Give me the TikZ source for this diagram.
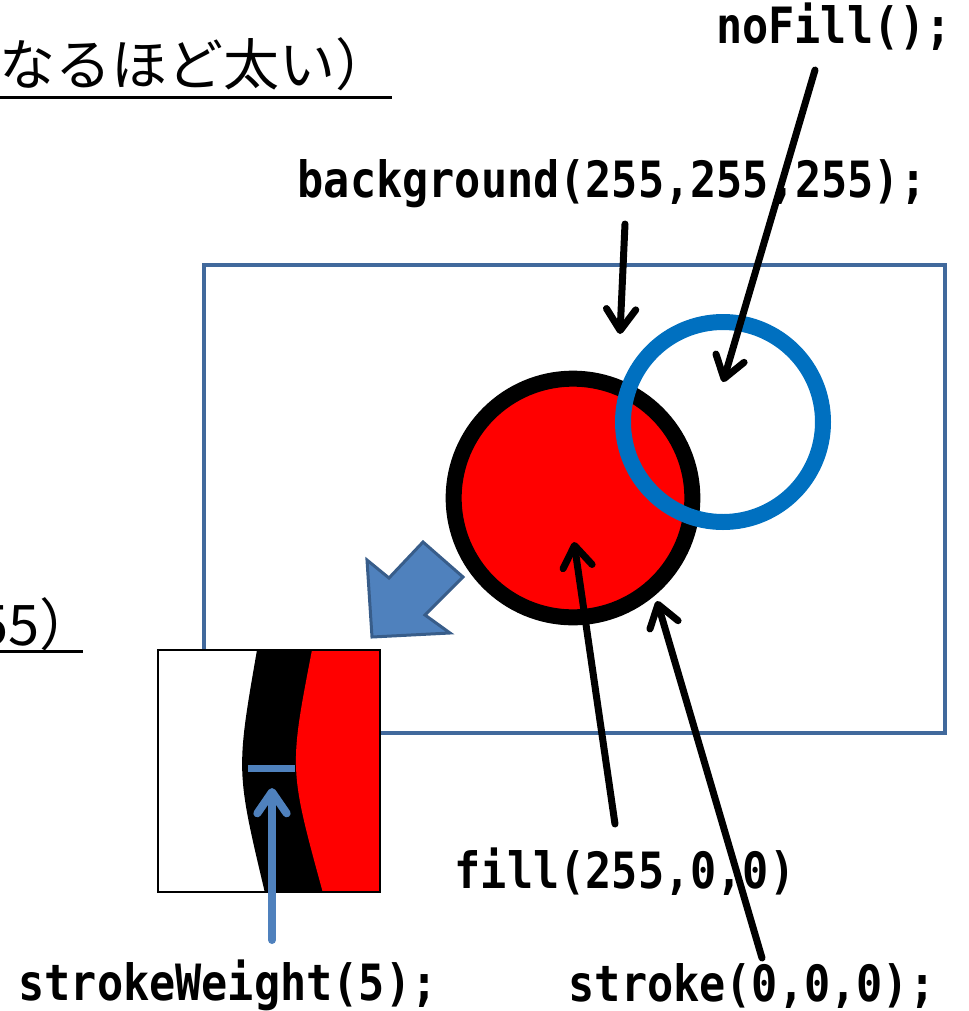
\documentclass[tikz,border=0pt]{standalone}
\usepackage{fontspec}
\usetikzlibrary{arrows.meta}
\newfontfamily\codefont{DejaVu Sans Mono}[FakeStretch=0.87]
\newfontfamily\jpfont{Noto Sans CJK JP}
\definecolor{frameblue}{HTML}{41699C}
\definecolor{ringblue}{HTML}{0070C0}
\definecolor{zoomblue}{HTML}{4F81BD}
\definecolor{zoomedge}{HTML}{385D8A}
\tikzset{
  code/.style={font={\codefont\bfseries\fontsize{37.5}{40}\selectfont}, inner sep=0pt, anchor=base},
  jp/.style={font={\jpfont\fontsize{42}{46}\selectfont}, inner sep=0pt, anchor=base east},
  pointer/.style={line width=5.25pt, line cap=round, -{Straight Barb[length=16pt,width=22pt,round]}},
  uline/.style={line width=2.25pt},
}
\begin{document}
\begin{tikzpicture}[x=0.75pt,y=-0.75pt]
      \useasboundingbox (0,0) rectangle (969,1011);

      % cut-off headings
      \node[jp] (title) at (392,85) {なるほど太い）};
      \coordinate (tline) at (0,97);
      \draw[uline] (tline) -- (title.east |- tline);
      \node[jp] (rgb) at (96,645) {55）};
      \coordinate (rline) at (0,651);
      \draw[uline] (rline) -- (83,651);

      % canvas
      \draw[frameblue, line width=3pt] (204,265) rectangle (945,733);
      \node[circle, draw=black, fill=red, line width=12pt, minimum size=179pt, inner sep=0pt] (fillcircle) at (573,498) {};
      \node[circle, draw=ringblue, line width=12pt, minimum size=150pt, inner sep=0pt] (nofillcircle) at (723,422) {};
      \draw[zoomedge, fill=zoomblue, line width=2.25pt, line join=miter] (372,637) -- (367,560) -- (389,578) -- (423,542) -- (463,577) -- (425,615) -- (450,633) -- cycle;

      % magnified edge
      \fill[white] (158,650) rectangle (380,892);
      \begin{scope}
        \clip (158,650) rectangle (380,892);
        \fill[black] (257,650) .. controls (236,771) .. (265,893) -- (400,893) -- (400,650) -- cycle;
        \fill[red] (312,650) .. controls (289,769) .. (323,893) -- (400,893) -- (400,650) -- cycle;
      \end{scope}
      \draw[line width=1.5pt] (158,650) rectangle (380,892);
      \draw[zoomblue, line width=5.25pt] (248,768) -- (295,768);

      % labels
      \node[code] (nofill) at (834,43) {noFill();};
      \node[code] (bg) at (612,197) {background(255,255,255);};
      \node[code] (fill) at (625,888) {fill(255,0,0)};
      \node[code] (stroke) at (752,1001) {stroke(0,0,0);};
      \node[code] (weight) at (228,1000) {strokeWeight(5);};

      % pointers
      \coordinate (bgfrom) at (625,224);   \coordinate (bgto) at (620,334);
      \coordinate (nffrom) at (815,70);    \coordinate (nfto) at (723,382);
      \coordinate (fifrom) at (615,824);   \coordinate (fito) at (574,542);
      \coordinate (stfrom) at (762,958);   \coordinate (stto) at (657,601);
      \coordinate (swfrom) at (272,940);   \coordinate (swto) at (272,788);
      \draw[pointer] (bgfrom) -- (bgto);
      \draw[pointer] (nffrom) -- (nfto);
      \draw[pointer] (fifrom) -- (fito);
      \draw[pointer] (stfrom) -- (stto);
      \draw[pointer, zoomblue, line width=6pt] (swfrom) -- (swto);

    \end{tikzpicture}
\end{document}
